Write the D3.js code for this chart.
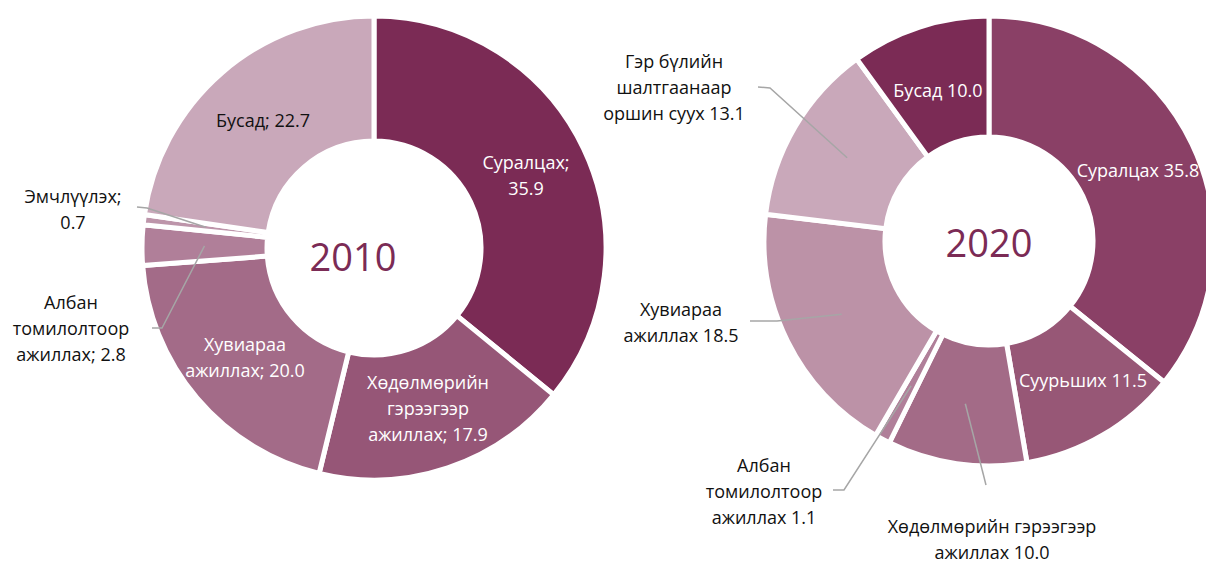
<!DOCTYPE html>
<html>
<head>
<meta charset="utf-8">
<script src="https://cdn.jsdelivr.net/npm/d3@7"></script>
<style>
  html, body { margin: 0; padding: 0; background: #ffffff; }
  svg { display: block; font-family: "Open Sans", "Noto Sans", sans-serif; }
</style>
</head>
<body>
<svg id="chart" width="1206" height="563"></svg>
<script>
// ---- 2010 ----
const categories2010 = ["Суралцах", "Хөдөлмөрийн гэрээгээр ажиллах", "Хувиараа ажиллах",
                        "Албан томилолтоор ажиллах", "Эмчлүүлэх", "Бусад"];
const values2010 = [35.9, 17.9, 20.0, 2.8, 0.7, 22.7];
const colors2010 = ["#7b2b55", "#965677", "#a36b88", "#b07f99", "#bd95aa", "#c9a8ba"];
// label text per slice; {v} is replaced by the slice value
const labelLines2010 = [
  ["Суралцах;", "{v}"],
  ["Хөдөлмөрийн", "гэрээгээр", "ажиллах; {v}"],
  ["Хувиараа", "ажиллах; {v}"],
  ["Албан", "томилолтоор", "ажиллах; {v}"],
  ["Эмчлүүлэх;", "{v}"],
  ["Бусад; {v}"]
];

// ---- 2020 ----
const categories2020 = ["Суралцах", "Суурьших", "Хөдөлмөрийн гэрээгээр ажиллах",
                        "Албан томилолтоор ажиллах", "Хувиараа ажиллах",
                        "Гэр бүлийн шалтгаанаар оршин суух", "Бусад"];
const values2020 = [35.8, 11.5, 10.0, 1.1, 18.5, 13.1, 10.0];
const colors2020 = ["#8a4066", "#975776", "#a36b87", "#b07f99", "#bc92a7", "#c9a8ba", "#7b2b55"];
const labelLines2020 = [
  ["Суралцах {v}"],
  ["Суурьших {v}"],
  ["Хөдөлмөрийн гэрээгээр", "ажиллах {v}"],
  ["Албан", "томилолтоор", "ажиллах {v}"],
  ["Хувиараа", "ажиллах {v}"],
  ["Гэр бүлийн", "шалтгаанаар", "оршин суух {v}"],
  ["Бусад {v}"]
];

// ---- layout ----
const charts = [
  {
    year: "2010", cx: 374, cy: 248, r0: 107, r1: 232, yearPos: [353, 271],
    categories: categories2010, values: values2010, colors: colors2010, lines: labelLines2010,
    labelPos: [[526, 169], [428, 389], [245, 351], [71, 309], [73, 203], [263, 127]],
    labelFill: ["#fff", "#fff", "#fff", "#111", "#111", "#111"],
    leaders: { 3: [[152, 328], [162, 328]], 4: [[137, 207], [147, 208]] }
  },
  {
    year: "2020", cx: 989, cy: 241, r0: 104, r1: 225, yearPos: [989, 257],
    categories: categories2020, values: values2020, colors: colors2020, lines: labelLines2020,
    labelPos: [[1138, 177], [1083, 387], [992, 533], [764, 472], [681, 316], [674, 68], [938, 97]],
    labelFill: ["#fff", "#fff", "#111", "#111", "#111", "#111", "#fff"],
    leaders: { 2: [[986, 485]], 3: [[833, 490], [844, 490]], 4: [[750, 321], [777, 321]], 5: [[758, 87], [770, 88]] }
  }
];

const svg = d3.select("#chart");
const fmt = d3.format(".1f");
const lineH = 26;

charts.forEach(c => {
  const pie = d3.pie().sort(null).value(d => d).startAngle(0).endAngle(2 * Math.PI);
  const arcs = pie(c.values);
  const arc = d3.arc().innerRadius(c.r0).outerRadius(c.r1);

  const g = svg.append("g").attr("transform", `translate(${c.cx},${c.cy})`);

  g.selectAll("path.slice")
    .data(arcs)
    .join("path")
    .attr("class", "slice")
    .attr("d", arc)
    .attr("fill", (d, i) => c.colors[i])
    .attr("stroke", "#ffffff")
    .attr("stroke-width", 5)
    .attr("stroke-linejoin", "miter");

  // leader lines from the label to the slice centroid
  const leaderG = svg.append("g");
  Object.keys(c.leaders).forEach(k => {
    const i = +k;
    const cen = arc.centroid(arcs[i]);
    const pts = c.leaders[k].concat([[c.cx + cen[0], c.cy + cen[1]]]);
    leaderG.append("path")
      .attr("d", d3.line()(pts))
      .attr("fill", "none")
      .attr("stroke", "#a6a6a6")
      .attr("stroke-width", 1.5);
  });

  // slice labels
  const labG = svg.append("g");
  arcs.forEach((d, i) => {
    const [x, y] = c.labelPos[i];
    const t = labG.append("text")
      .attr("x", x).attr("y", y)
      .attr("text-anchor", "middle")
      .attr("font-size", 18)
      .attr("fill", c.labelFill[i]);
    c.lines[i].forEach((ln, j) => {
      t.append("tspan")
        .attr("x", x)
        .attr("y", y + j * lineH)
        .text(ln.replace("{v}", fmt(c.values[i])));
    });
  });

  // year in the centre
  svg.append("text")
    .attr("x", c.yearPos[0]).attr("y", c.yearPos[1])
    .attr("text-anchor", "middle")
    .attr("font-size", 38)
    .attr("fill", "#7b2b55")
    .text(c.year);
});
</script>
</body>
</html>
